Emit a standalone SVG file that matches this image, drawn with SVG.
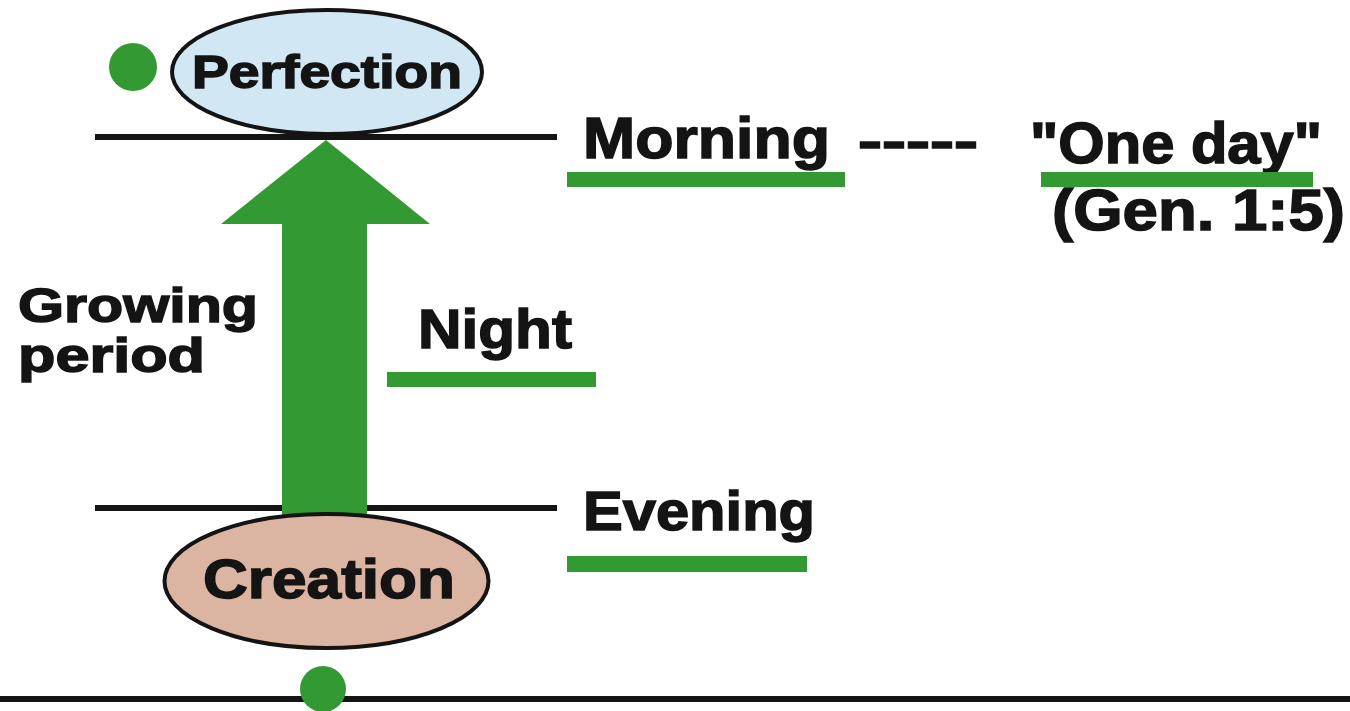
<svg xmlns="http://www.w3.org/2000/svg" width="1350" height="711" viewBox="0 0 1350 711">
<style>
.t{font-family:"Liberation Sans",Arial,sans-serif;font-weight:bold;fill:#141414;stroke:#141414;stroke-width:1.5}
.ln{stroke:#141414;stroke-width:6;fill:none}
.ul{fill:#339933}
.g{fill:#339933}
.el{stroke:#141414;stroke-width:4}
</style>
<rect width="1350" height="711" fill="#ffffff"/>
<g id="connectors">
<line class="ln" x1="95" y1="137" x2="557" y2="137"/>
<line class="ln" x1="95" y1="508" x2="557" y2="508"/>
<line class="ln" x1="0" y1="699" x2="1350" y2="699"/>
<polygon id="arrow" class="g" points="326,140 430,224 367,224 367,515 282,515 282,224 221,224"/>
</g>
<g id="perfection">
<ellipse class="el" cx="327" cy="72" rx="155" ry="62" fill="#d2e7f4"/>
<text class="t" x="192" y="88" font-size="46" textLength="270" lengthAdjust="spacingAndGlyphs">Perfection</text>
</g>
<g id="dot-top"><circle class="g" cx="133" cy="67" r="24"/></g>
<g id="creation">
<ellipse class="el" cx="326.5" cy="581" rx="162" ry="67" fill="#dcb4a2"/>
<text class="t" x="203" y="598" font-size="56" textLength="252" lengthAdjust="spacingAndGlyphs">Creation</text>
</g>
<g id="dot-bottom"><circle class="g" cx="323" cy="689" r="23"/></g>
<g id="morning">
<text class="t" x="583" y="158" font-size="57" textLength="247" lengthAdjust="spacingAndGlyphs">Morning</text>
<rect class="ul" x="567" y="172" width="278" height="15"/>
</g>
<g id="dashes">
<text class="t" x="858" y="158" font-size="50" textLength="120" lengthAdjust="spacingAndGlyphs">-----</text>
</g>
<g id="oneday">
<text class="t" x="1030" y="163" font-size="57" textLength="292" lengthAdjust="spacingAndGlyphs">"One day"</text>
<rect class="ul" x="1041" y="172" width="272" height="15"/>
<text class="t" x="1052" y="230" font-size="57" textLength="293" lengthAdjust="spacingAndGlyphs">(Gen. 1:5)</text>
</g>
<g id="growing">
<text class="t" x="18" y="322" font-size="49" textLength="240" lengthAdjust="spacingAndGlyphs">Growing</text>
<text class="t" x="18" y="372" font-size="49" textLength="187" lengthAdjust="spacingAndGlyphs">period</text>
</g>
<g id="night">
<text class="t" x="418" y="348" font-size="56" textLength="154" lengthAdjust="spacingAndGlyphs">Night</text>
<rect class="ul" x="387" y="372" width="209" height="15"/>
</g>
<g id="evening">
<text class="t" x="583" y="530" font-size="56" textLength="232" lengthAdjust="spacingAndGlyphs">Evening</text>
<rect class="ul" x="567" y="556" width="240" height="16"/>
</g>
</svg>
